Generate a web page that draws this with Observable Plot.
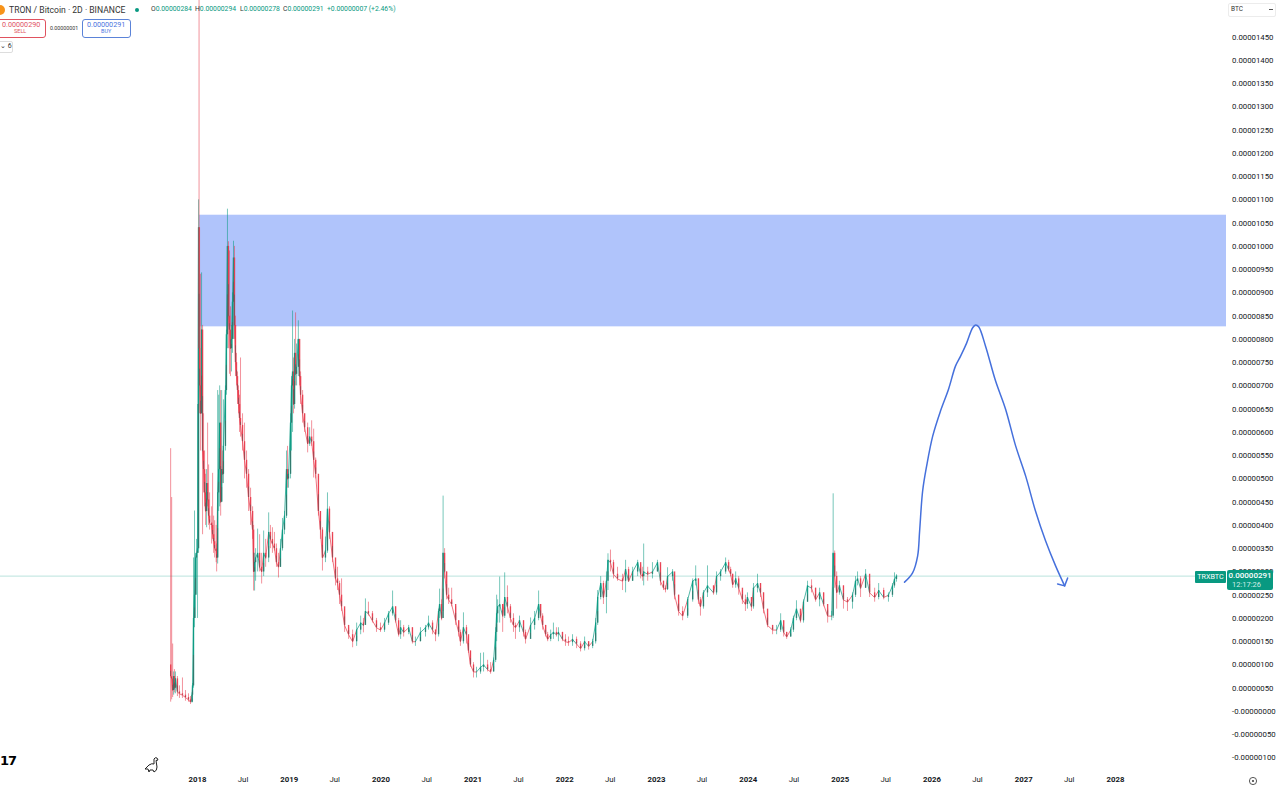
<!DOCTYPE html>
<html><head><meta charset="utf-8">
<script src="https://cdn.jsdelivr.net/npm/d3@7"></script>
<script src="https://cdn.jsdelivr.net/npm/@observablehq/plot@0.6"></script>
<style>
html,body{margin:0;padding:0;background:#fff;width:1280px;height:787px;overflow:hidden}
body{position:relative;font-family:Roboto,sans-serif;color:#131722}
#chart{position:absolute;left:0;top:0}
.o{position:absolute;white-space:nowrap;line-height:1}
</style></head><body>
<div id="chart"></div>
<script>
// All prices are in units of 0.00000001 BTC; candle days count from 2018-01-01.
const candleDay=[-107,-103,-99,-95,-92,-88,-80,-72,-60,-48,
-36,-28,-22,-20,-16,-12,-8,-4,0,4,
6,8,12,16,20,24,28,32,36,40,
44,48,56,60,64,68,74,76,80,84,
88,92,96,100,103,111,115,119,123,127,
131,135,139,143,147,151,155,159,163,167,
171,179,187,195,203,211,219,223,227,231,
239,247,255,263,271,283,290,298,306,314,
322,330,338,346,354,358,362,370,374,378,
382,386,390,394,401,406,410,418,426,438,
446,454,462,470,481,489,497,509,517,525,
537,549,557,565,573,585,601,617,633,649,
660,668,680,696,712,728,744,760,776,788,
800,808,820,840,855,867,887,907,919,935,
947,959,963,971,977,983,991,999,1011,1027,
1039,1046,1058,1070,1078,1086,1098,1110,1126,1138,
1154,1166,1178,1186,1190,1194,1202,1214,1222,1233,
1245,1257,1265,1281,1297,1305,1325,1341,1357,1365,
1373,1385,1393,1405,1416,1428,1436,1452,1464,1476,
1492,1508,1524,1540,1556,1572,1584,1592,1604,1615,
1627,1633,1643,1655,1671,1691,1703,1715,1731,1751,
1763,1771,1775,1791,1810,1830,1842,1854,1862,1870,
1890,1898,1914,1930,1950,1970,1982,1993,2001,2013,
2029,2053,2065,2081,2101,2113,2121,2129,2141,2153,
2168,2180,2188,2204,2212,2228,2240,2252,2268,2288,
2304,2320,2332,2344,2360,2371,2383,2399,2411,2427,
2443,2459,2475,2491,2507,2523,2529,2535,2543,2554,
2570,2586,2606,2618,2626,2638,2658,2674,2694,2710,
2730,2749,2765,2773,2781];
const candleHigh=[565,460,145,85,90,85,75,55,72,45,
38,32,40,60,330,431,340,370,660,1100,
1530,1040,940,943,830,640,560,510,520,620,
530,470,440,512,420,410,400,360,690,680,
700,690,690,560,670,700,820,1080,1010,990,
870,830,900,1011,1000,850,770,730,700,680,
760,640,620,560,520,480,440,400,340,350,
392,380,340,388,370,427,400,395,385,360,
340,370,415,430,560,570,520,640,720,861,
760,800,857,790,840,800,730,690,640,620,
610,625,607,545,505,430,395,375,470,440,
380,310,310,280,285,220,180,175,190,205,
200,242,235,215,200,190,200,215,259,225,
200,195,185,185,180,160,180,185,205,195,
175,220,263,240,463,350,300,265,265,225,
195,175,212,185,160,130,105,95,125,126,
110,105,115,180,250,240,289,230,298,270,
230,210,190,205,195,175,201,215,259,230,
210,185,170,175,190,180,180,170,165,160,
165,160,150,160,150,155,200,260,290,280,
300,339,347,325,310,295,325,310,310,325,
315,310,360,310,320,325,315,280,270,309,
305,295,250,225,245,285,313,285,245,260,
313,270,300,305,330,325,310,295,300,290,
260,250,255,245,275,295,275,255,210,185,
185,210,195,170,180,205,238,215,240,280,
283,265,265,255,220,215,468,345,300,280,
270,245,255,290,300,290,305,280,265,275,
265,255,275,298,294];
const candleLow=[20,25,30,35,40,38,32,28,28,22,
20,15,18,20,50,180,200,250,200,340,
700,640,560,700,380,470,440,400,395,440,
400,390,360,370,340,330,320,300,317,430,
440,420,450,490,490,560,680,780,780,725,
720,730,770,800,800,720,700,660,640,600,
590,560,500,480,430,400,370,259,259,280,
300,300,274,290,310,320,350,340,345,310,
287,310,345,380,415,480,480,500,560,600,
640,650,700,700,720,700,660,620,600,556,
570,570,502,500,420,370,302,320,340,370,
320,270,260,230,215,170,155,137,140,165,
169,190,205,190,170,170,170,185,205,190,
160,155,160,165,145,140,150,160,175,165,
150,160,200,195,215,285,240,230,225,185,
160,140,145,145,125,95,72,72,80,85,
85,80,85,105,150,190,190,170,200,210,
190,170,155,170,160,145,170,175,195,200,
175,160,150,150,155,160,150,150,140,140,
140,135,128,130,132,135,145,185,240,230,
210,260,300,285,280,260,255,278,280,290,
285,280,270,280,285,300,270,260,255,260,
280,240,205,195,200,235,270,230,205,220,
245,250,250,280,295,300,290,265,265,250,
230,215,220,215,220,255,245,210,180,165,
165,170,160,155,160,170,195,190,190,235,
255,235,225,225,190,195,200,265,220,250,
220,215,220,245,270,245,265,245,235,240,
240,235,245,265,278];
const candleClose=[75,70,45,75,50,70,42,38,35,30,
25,20,35,55,200,250,330,340,350,1040,
780,700,640,820,560,520,470,430,490,455,
420,405,400,380,365,350,345,330,470,520,
620,450,520,510,570,690,810,1000,850,820,
780,800,880,975,830,750,720,690,660,630,
615,580,540,510,460,430,390,300,320,330,
340,310,300,340,330,385,370,360,350,320,
310,350,390,420,520,500,510,620,700,730,
660,770,725,740,800,720,680,640,610,575,
590,580,540,510,430,390,330,345,435,385,
330,285,275,250,225,185,165,150,175,190,
185,215,210,195,180,175,190,210,225,195,
165,180,170,180,150,150,170,180,190,175,
165,215,230,200,340,300,250,240,230,195,
170,150,180,165,130,100,85,85,95,100,
90,85,110,170,210,225,230,205,245,225,
200,185,180,195,170,155,185,200,230,205,
185,165,155,165,170,165,170,155,150,148,
155,145,135,150,140,150,190,245,275,245,
280,325,320,295,285,280,305,280,300,320,
295,290,300,295,300,320,280,265,262,290,
300,250,215,205,240,280,285,240,225,255,
270,255,290,300,320,305,295,272,285,265,
240,230,245,225,265,275,255,220,185,175,
175,195,170,160,175,200,220,195,235,270,
265,240,255,230,205,205,340,290,255,270,
240,235,250,280,285,265,295,255,245,260,
245,250,270,284,291];
const firstOpen=100;
const lastPrice=291;
const zoneLow=827, zoneHigh=1067, zoneStartDay=8;
const forecastDay=[2813,2845,2865,2873,2885,2901,2925,2956,2988,3016,3036,3060,3084,3096,3108,3135,3175,3215,3255,3295,3334,3374,3414,3450];
const forecastPrice=[278,298,334,388,474,528,592,646,693,743,764,792,825,831,827,786,711,650,571,506,431,367,313,270];
const arrowDay=[3422,3450,3462];
const arrowPrice=[274,270,287];
const yTicks=[-100,-50,0,50,100,150,200,250,300,350,400,450,500,550,600,650,700,750,800,850,900,950,1000,1050,1100,1150,1200,1250,1300,1350,1400,1450];
const yearLabels=[2018,2019,2020,2021,2022,2023,2024,2025,2026,2027,2028];
const julyLabels=[2018,2019,2020,2021,2022,2023,2024,2025,2026,2027];

const UP="#089981", DOWN="#e8394a", BLUE="#4570dc";
const day=d=>new Date(Date.UTC(2018,0,1)+d*864e5);
const candles=candleDay.map((d,i)=>({date:day(d),high:candleHigh[i],low:candleLow[i],close:candleClose[i],open:i?candleClose[i-1]:firstOpen}));
const col=d=>d.close>=d.open?UP:DOWN;
const forecast=forecastDay.map((d,i)=>({date:day(d),price:forecastPrice[i]}));
const arrow=arrowDay.map((d,i)=>({date:day(d),price:arrowPrice[i]}));
const xDomain=[day(-784),day(4094)];
const fmt=v=>(v<=0?"-":"")+(Math.abs(v)/1e8).toFixed(8);

const chart=Plot.plot({
  width:1280,height:787,marginLeft:0,marginRight:54,marginTop:0,marginBottom:16,
  style:{fontFamily:'Roboto,sans-serif',fontSize:"7.8px",color:"#131722",background:"#fff"},
  x:{type:"utc",domain:xDomain,range:[0,1226],axis:null},
  y:{domain:[-130.4,1527.4],range:[771.6,0.6],axis:null},
  color:{type:"identity"},
  marks:[
    Plot.rect([{}],{x1:()=>day(zoneStartDay),x2:()=>xDomain[1],y1:()=>zoneLow,y2:()=>zoneHigh,fill:"#b0c4fb"}),
    Plot.ruleY([lastPrice],{stroke:UP,strokeOpacity:.28,strokeWidth:1}),
    Plot.ruleX(candles,{x:"date",y1:"low",y2:"high",stroke:col,strokeWidth:1,strokeOpacity:.55}),
    Plot.line(candles,{x:"date",y:"close",z:null,stroke:col,strokeWidth:1,strokeOpacity:.7}),
    Plot.ruleX(candles,{x:"date",y1:"open",y2:"close",stroke:col,strokeWidth:1.35,strokeOpacity:.9}),
    Plot.ruleX(candles,{x:"date",y1:d=>Math.min(d.open,d.close),y2:d=>Math.min(d.open,d.close)+Math.abs(d.close-d.open)*.45,stroke:"#555",strokeWidth:1,strokeOpacity:.5}),
    Plot.line(forecast,{x:"date",y:"price",stroke:BLUE,strokeWidth:1.5,curve:"catmull-rom"}),
    Plot.line(arrow,{x:"date",y:"price",stroke:BLUE,strokeWidth:1.5}),
    Plot.axisY({anchor:"right",ticks:yTicks,tickFormat:fmt,tickSize:0,tickPadding:5.5,label:null,fontSize:7.8}),
    Plot.axisX({anchor:"bottom",ticks:yearLabels.map(y=>new Date(Date.UTC(y,0,1))),tickFormat:d=>String(d.getUTCFullYear()),tickSize:0,tickPadding:4.5,label:null,fontWeight:700}),
    Plot.axisX({anchor:"bottom",ticks:julyLabels.map(y=>new Date(Date.UTC(y,6,1))),tickFormat:()=>"Jul",tickSize:0,tickPadding:4.5,label:null})
  ]
});
document.getElementById("chart").append(chart);

function add(text,css){const e=document.createElement("div");e.className="o";e.textContent=text;e.style.cssText=css;document.body.append(e);return e;}
// header
add("","left:-5px;top:5px;width:10px;height:10px;border-radius:50%;background:#f7931a");
add("TRON / Bitcoin · 2D · BINANCE","left:9px;top:5.5px;font-size:8.6px;color:#333");
add("","left:135px;top:8px;width:4px;height:4px;border-radius:50%;background:#089981");
[["O","0.00000284",151],["H","0.00000294",195],["L","0.00000278",240],["C","0.00000291",283]].forEach(([k,v,x])=>{
  const e=add(k,`left:${x}px;top:6px;font-size:6.8px;color:#333`);
  const s=document.createElement("span");s.textContent=v;s.style.color="#089981";e.append(s);
});
add("+0.00000007 (+2.46%)","left:327px;top:6px;font-size:6.8px;color:#089981");
// sell / buy
add("","left:-3px;top:19px;width:47px;height:17px;border:1px solid #e0525f;border-radius:3px");
add("0.00000290","left:2px;top:21px;font-size:7.2px;color:#e0525f");
add("SELL","left:14px;top:29px;font-size:5.5px;color:#e0525f");
add("0.00000001","left:50px;top:25.5px;font-size:5.3px;color:#333");
add("","left:82px;top:19px;width:47px;height:17px;border:1px solid #5b83d8;border-radius:3px");
add("0.00000291","left:87px;top:21px;font-size:7.2px;color:#4a74e0");
add("BUY","left:101px;top:29px;font-size:5.5px;color:#4a74e0");
add("","left:-3px;top:41px;width:14px;height:10px;border:1px solid #ddd;border-radius:2px");
add("⌄ 6","left:0px;top:42.5px;font-size:7px;color:#333");
// BTC button
add("","left:1228px;top:3px;width:46px;height:12px;border:1px solid #ececec;border-radius:2px;background:#fff");
add("BTC","left:1231px;top:6px;font-size:6.5px;color:#333");
add("","left:1269px;top:9px;width:4px;height:1px;background:#555");
// price tags
add("TRXBTC","left:1195px;top:571px;width:31px;height:12px;line-height:12px;text-align:center;background:#089981;color:#fff;font-size:7.2px;border-radius:1px");
add("0.00000291","left:1227px;top:570px;width:46px;height:11px;line-height:12px;text-align:center;background:#089981;color:#fff;font-size:8px;border-radius:2px 2px 0 0;font-weight:500");
add("12:17:26","left:1227px;top:581px;width:41px;height:9px;padding-left:5px;line-height:8px;background:#089981;color:#cfeee7;font-size:7.5px;border-radius:0 0 2px 2px");
// logo, dino and settings
add("17","left:0px;top:754px;font-size:13px;font-weight:800;color:#000;font-family:'DejaVu Sans',sans-serif;letter-spacing:-1px");
const ns="http://www.w3.org/2000/svg";
function icon(x,y,w,h,inner){const s=document.createElementNS(ns,"svg");s.setAttribute("width",w);s.setAttribute("height",h);s.setAttribute("viewBox",`0 0 ${w} ${h}`);s.style.cssText=`position:absolute;left:${x}px;top:${y}px`;s.innerHTML=inner;document.body.append(s);}
icon(144,756,16,18,'<path d="M1 13 L5 9 Q8 7 10 8 L10 3 Q11 1 13 2 L14 4 L12 4.5 L13 11 Q13 15 10 16 L9 14 L6 14 L5 16 L4 13 Z" fill="none" stroke="#222" stroke-width="1"/>');
icon(1248,776,10,10,'<circle cx="5" cy="5" r="3.6" fill="none" stroke="#444" stroke-width=".9"/><circle cx="5" cy="5" r="1.1" fill="#444"/>');
</script>
</body></html>
